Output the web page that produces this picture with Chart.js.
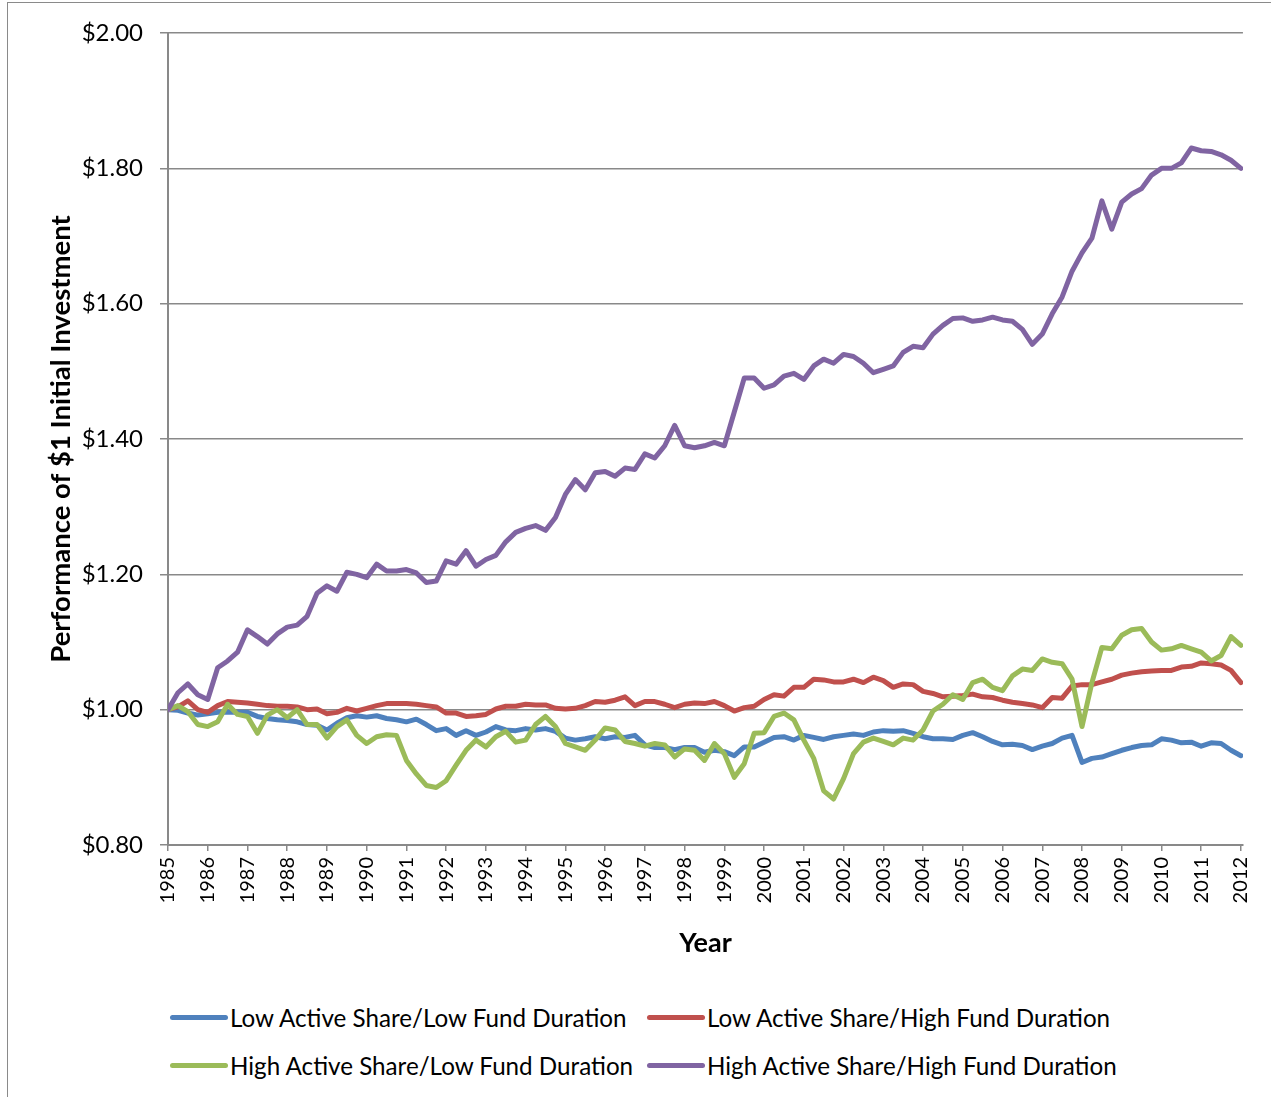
<!DOCTYPE html>
<html>
<head>
<meta charset="utf-8">
<script src="https://cdn.jsdelivr.net/npm/chart.js@4.4.1/dist/chart.umd.min.js"></script>
<style>
  body { margin: 0; background: #fff; width: 1271px; height: 1097px; overflow: hidden; position: relative; font-family: Lato, "Open Sans", sans-serif; }
  #frame { position: absolute; left: 7px; top: 2px; width: 1300px; height: 1200px; border: 1px solid #8a8a8a; }
  #wrap { position: absolute; left: 0; top: 0; width: 1271px; height: 980px; }
  .item { position: absolute; display: flex; align-items: center; font-size: 24.2px; color: #000; white-space: nowrap; }
  .swatch { width: 58px; height: 5px; border-radius: 3px; margin-right: 2px; }
</style>
</head>
<body>
<div id="frame"></div>
<div id="wrap"><canvas id="graph01" width="1271" height="980"></canvas></div>
<div id="legend"></div>

<script>
const SERIES_COLORS = {
  lowLow: '#4F81BD',
  lowHigh: '#C0504D',
  highLow: '#9BBB59',
  highHigh: '#8064A2'
};

// one value per quarter, 1985.00 ... 2012.00
const years = [1985, 1986, 1987, 1988, 1989, 1990, 1991, 1992, 1993, 1994, 1995, 1996, 1997, 1998,
  1999, 2000, 2001, 2002, 2003, 2004, 2005, 2006, 2007, 2008, 2009, 2010, 2011, 2012];

const seriesNames = [
  'Low Active Share/Low Fund Duration',
  'Low Active Share/High Fund Duration',
  'High Active Share/Low Fund Duration',
  'High Active Share/High Fund Duration'
];

const lowLow = [
  1.000, 0.999, 0.995, 0.992,
  0.994, 0.996, 0.996, 0.996,
  0.996, 0.990, 0.987, 0.985,
  0.984, 0.982, 0.978, 0.977,
  0.970, 0.980, 0.988, 0.991,
  0.989, 0.991, 0.987, 0.985,
  0.982, 0.986, 0.978, 0.969,
  0.972, 0.962, 0.969, 0.962,
  0.967, 0.975, 0.970, 0.969,
  0.972, 0.970, 0.972, 0.968,
  0.958, 0.955, 0.957, 0.960,
  0.957, 0.960, 0.959, 0.962,
  0.948, 0.944, 0.944, 0.941,
  0.944, 0.944, 0.937, 0.940,
  0.938, 0.932, 0.945, 0.945,
  0.952, 0.959, 0.960, 0.955,
  0.962, 0.959, 0.956, 0.960,
  0.962, 0.964, 0.962, 0.967,
  0.969, 0.968, 0.969, 0.965,
  0.960, 0.957, 0.957, 0.956,
  0.962, 0.966, 0.960, 0.953,
  0.948, 0.949, 0.947, 0.941,
  0.946, 0.950, 0.958, 0.962,
  0.922, 0.928, 0.930, 0.935,
  0.940, 0.944, 0.947, 0.948,
  0.957, 0.955, 0.951, 0.952,
  0.946, 0.951, 0.950, 0.940,
  0.932
];

const lowHigh = [
  1.000, 1.004, 1.013, 1.000,
  0.996, 1.006, 1.012, 1.011,
  1.010, 1.008, 1.006, 1.005,
  1.005, 1.004, 1.000, 1.001,
  0.994, 0.996, 1.002, 0.998,
  1.002, 1.006, 1.009, 1.009,
  1.009, 1.008, 1.006, 1.004,
  0.995, 0.995, 0.990, 0.991,
  0.993, 1.001, 1.005, 1.005,
  1.008, 1.007, 1.007, 1.002,
  1.001, 1.002, 1.006, 1.012,
  1.011, 1.014, 1.019, 1.006,
  1.012, 1.012, 1.008, 1.003,
  1.008, 1.010, 1.009, 1.012,
  1.006, 0.998, 1.003, 1.005,
  1.015, 1.022, 1.020, 1.033,
  1.033, 1.045, 1.044, 1.041,
  1.041, 1.045, 1.040, 1.048,
  1.043, 1.033, 1.038, 1.037,
  1.027, 1.024, 1.019, 1.020,
  1.021, 1.023, 1.019, 1.018,
  1.014, 1.011, 1.009, 1.007,
  1.003, 1.018, 1.017, 1.035,
  1.037, 1.037, 1.041, 1.045,
  1.051, 1.054, 1.056, 1.057,
  1.058, 1.058, 1.063, 1.064,
  1.069, 1.068, 1.066, 1.058,
  1.040
];

const highLow = [
  1.000, 1.006, 0.997, 0.978,
  0.975, 0.982, 1.008, 0.993,
  0.990, 0.965, 0.992, 1.000,
  0.988, 1.000, 0.978, 0.978,
  0.958, 0.975, 0.985, 0.962,
  0.950, 0.960, 0.963, 0.962,
  0.925, 0.905, 0.888, 0.885,
  0.895, 0.918, 0.940, 0.955,
  0.945, 0.960, 0.968, 0.952,
  0.955, 0.978, 0.990, 0.975,
  0.950, 0.945, 0.940, 0.955,
  0.973, 0.970, 0.953, 0.950,
  0.946, 0.950, 0.948, 0.930,
  0.942, 0.940, 0.925, 0.950,
  0.935, 0.900, 0.920, 0.965,
  0.966, 0.990, 0.995, 0.985,
  0.955, 0.928, 0.880, 0.868,
  0.898, 0.935, 0.952, 0.958,
  0.953, 0.948, 0.958, 0.955,
  0.970, 0.998, 1.008, 1.022,
  1.015, 1.040, 1.045, 1.033,
  1.028, 1.050, 1.060, 1.058,
  1.075, 1.070, 1.068, 1.045,
  0.975, 1.040, 1.092, 1.090,
  1.110, 1.118, 1.120, 1.100,
  1.088, 1.090, 1.095, 1.090,
  1.085, 1.072, 1.080, 1.108,
  1.095
];

const highHigh = [
  1.000, 1.025, 1.038, 1.022,
  1.015, 1.062, 1.072, 1.085,
  1.118, 1.108, 1.097, 1.112,
  1.122, 1.125, 1.138, 1.172,
  1.183, 1.175, 1.203, 1.200,
  1.195, 1.215, 1.205, 1.205,
  1.207, 1.202, 1.188, 1.190,
  1.220, 1.215, 1.235, 1.212,
  1.222, 1.228, 1.248, 1.262,
  1.268, 1.272, 1.265, 1.284,
  1.318, 1.340, 1.325, 1.350,
  1.352, 1.345, 1.357, 1.355,
  1.378, 1.372, 1.390, 1.420,
  1.390, 1.387, 1.390, 1.395,
  1.390, 1.440, 1.490, 1.490,
  1.475, 1.480, 1.493, 1.497,
  1.488, 1.508, 1.518, 1.512,
  1.525, 1.522, 1.512, 1.498,
  1.503, 1.508, 1.528, 1.537,
  1.535, 1.555, 1.568, 1.578,
  1.579, 1.574, 1.576, 1.580,
  1.576, 1.574, 1.562, 1.540,
  1.555, 1.585, 1.610, 1.648,
  1.675, 1.697, 1.752, 1.710,
  1.750, 1.762, 1.770, 1.790,
  1.800, 1.800, 1.808, 1.830,
  1.826, 1.825, 1.820, 1.812,
  1.800
];

const yTicks = [0.8, 1.0, 1.2, 1.4, 1.6, 1.8, 2.0];

// quarter positions along the year axis
const quarters = [];
years.forEach(function (y) {
  if (y < 2012) {
    quarters.push(y, y + 0.25, y + 0.5, y + 0.75);
  } else {
    quarters.push(y);
  }
});

function toPoints(values) {
  return values.map(function (v, i) { return { x: quarters[i], y: v }; });
}

const allValues = [lowLow, lowHigh, highLow, highHigh];
const allColors = Object.values(SERIES_COLORS);

const datasets = allValues.map(function (vals, i) {
  return {
    label: seriesNames[i],
    data: toPoints(vals),
    borderColor: allColors[i],
    backgroundColor: allColors[i],
    borderWidth: 5,
    borderCapStyle: 'round',
    borderJoinStyle: 'round',
    pointRadius: 0,
    tension: 0,
    order: 4 - i
  };
});

const axisGray = '#898989';

new Chart(document.getElementById('graph01'), {
  type: 'line',
  data: { datasets: datasets },
  options: {
    responsive: false,
    animation: false,
    events: [],
    layout: { padding: { left: 0, top: 33, right: 28, bottom: 0 } },
    plugins: {
      legend: { display: false },
      tooltip: { enabled: false }
    },
    scales: {
      x: {
        type: 'linear',
        min: 1985,
        max: 2012.05,
        afterFit: function (scale) { scale.height = 135; },
        grid: {
          drawOnChartArea: false,
          drawTicks: true,
          tickLength: 6,
          color: axisGray,
          lineWidth: 1.5
        },
        border: { display: true, color: axisGray, width: 2 },
        ticks: {
          stepSize: 1,
          includeBounds: false,
          autoSkip: false,
          minRotation: 90,
          maxRotation: 90,
          padding: 6,
          color: '#000',
          font: { family: 'Lato', size: 20 },
          callback: function (v) { return String(v); }
        },
        title: {
          display: true,
          text: 'Year',
          color: '#000',
          font: { family: 'Lato', size: 27, weight: 'bold' },
          padding: { top: 0, bottom: 21 }
        }
      },
      y: {
        min: 0.8,
        max: 2.0,
        afterFit: function (scale) { scale.width = 168; },
        afterBuildTicks: function (scale) {
          scale.ticks = yTicks.map(function (v) { return { value: v }; });
        },
        grid: {
          color: axisGray,
          lineWidth: 1.5,
          tickLength: 8
        },
        border: { display: true, color: axisGray, width: 2 },
        ticks: {
          padding: 17,
          color: '#000',
          font: { family: 'Lato', size: 24 },
          callback: function (v) { return '$' + Number(v).toFixed(2); }
        },
        title: {
          display: true,
          text: 'Performance of $1 Initial Investment',
          color: '#000',
          font: { family: 'Lato', size: 27.5, weight: 'bold' },
          padding: { top: 45, bottom: 0 }
        }
      }
    }
  }
});

// legend laid out like the original: two rows, two columns
const legendBox = document.getElementById('legend');
const legendPos = [
  { left: 170, top: 1017 },
  { left: 647, top: 1017 },
  { left: 170, top: 1065 },
  { left: 647, top: 1065 }
];
seriesNames.forEach(function (name, i) {
  const item = document.createElement('div');
  item.className = 'item';
  item.style.left = legendPos[i].left + 'px';
  item.style.top = (legendPos[i].top - 15) + 'px';
  item.style.height = '30px';
  const sw = document.createElement('span');
  sw.className = 'swatch';
  sw.style.background = allColors[i];
  const txt = document.createElement('span');
  txt.textContent = name;
  item.appendChild(sw);
  item.appendChild(txt);
  legendBox.appendChild(item);
});
</script>
</body>
</html>
